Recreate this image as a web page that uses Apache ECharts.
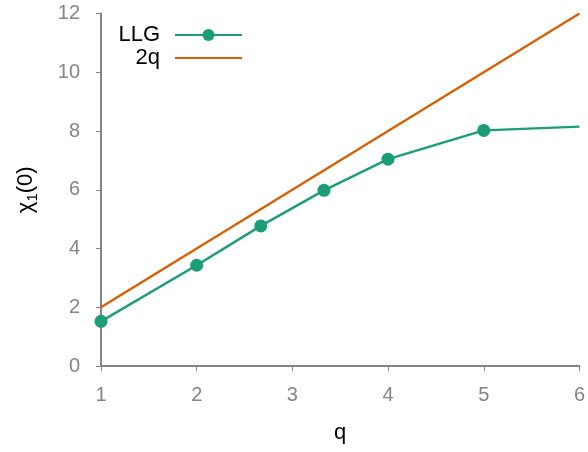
<!DOCTYPE html>
<html>
<head>
<meta charset="utf-8">
<script src="https://cdn.jsdelivr.net/npm/echarts@6/dist/echarts.min.js"></script>
<style>
  html, body { margin: 0; padding: 0; background: #fff; }
  #chart { width: 588px; height: 452px; }
</style>
</head>
<body>
<div id="chart"></div>
<script>
// LLG susceptibility chi_1(0) against q, with the 2q reference line
const qValues = [1, 2, 2.67, 3.33, 4, 5, 6];
const llgValues = [1.52, 3.43, 4.77, 5.98, 7.04, 8.02, 8.15];
const refQ = [1, 6];
const refValues = [2, 12];
const xTicks = [1, 2, 3, 4, 5, 6];
const yTicks = [0, 2, 4, 6, 8, 10, 12];

const axisGray = '#858585';
const font = 'Liberation Sans, Arial, Helvetica, sans-serif';

const llgData = qValues.map((q, i) => [q, llgValues[i]]);
const refData = refQ.map((q, i) => [q, refValues[i]]);
const lastIndex = llgData.length - 1;

const chart = echarts.init(document.getElementById('chart'), null, { renderer: 'canvas' });
chart.setOption({
  animation: false,
  backgroundColor: '#ffffff',
  textStyle: { fontFamily: font },
  grid: { left: 101, right: 4, top: 13.5, bottom: 86, containLabel: false },
  legend: {
    orient: 'vertical',
    align: 'right',
    right: 345,
    top: 23.5,
    padding: 0,
    itemGap: 0,
    itemWidth: 67,
    itemHeight: 15,
    textStyle: { fontSize: 22, color: '#000', fontFamily: font, lineHeight: 23, padding: [0, 10, 0, 0] },
    data: [
      { name: 'LLG' },
      // the reference line has no markers, so its key shows the line only
      { name: '2q', itemStyle: { opacity: 0 } }
    ]
  },
  xAxis: {
    type: 'value',
    min: xTicks[0],
    max: xTicks[xTicks.length - 1],
    interval: 1,
    name: 'q',
    nameLocation: 'middle',
    nameGap: 56,
    nameTextStyle: { fontSize: 22, color: '#000', fontFamily: font },
    axisLine: { show: true, lineStyle: { color: axisGray, width: 2 } },
    axisTick: { show: true, length: 5, lineStyle: { color: axisGray, width: 1 } },
    axisLabel: { fontSize: 20, color: axisGray, margin: 19, fontFamily: font },
    splitLine: { show: false }
  },
  yAxis: {
    type: 'value',
    min: yTicks[0],
    max: yTicks[yTicks.length - 1],
    interval: 2,
    name: '{a|χ}{s|1}{a|(0)}',
    nameLocation: 'middle',
    nameGap: 63,
    nameRotate: 90,
    nameTextStyle: {
      color: '#000',
      fontFamily: font,
      rich: {
        a: { fontSize: 22, color: '#000', fontFamily: font, lineHeight: 24 },
        s: { fontSize: 15, color: '#000', fontFamily: font, lineHeight: 16, padding: [14, 0, 0, 0] }
      }
    },
    axisLine: { show: true, lineStyle: { color: axisGray, width: 2 } },
    axisTick: { show: true, length: 5, lineStyle: { color: axisGray, width: 1 } },
    axisLabel: { fontSize: 20, color: axisGray, margin: 21, fontFamily: font },
    splitLine: { show: false }
  },
  series: [
    {
      name: 'LLG',
      type: 'line',
      data: llgData,
      symbol: 'circle',
      symbolSize: (val, params) => (params.dataIndex === lastIndex ? 0 : 13),
      showSymbol: true,
      color: '#1b9e77',
      lineStyle: { color: '#1b9e77', width: 2.4 },
      itemStyle: { color: '#1b9e77' },
      z: 3
    },
    {
      name: '2q',
      type: 'line',
      data: refData,
      symbol: 'none',
      color: '#d95f02',
      lineStyle: { color: '#d95f02', width: 2.4 },
      z: 2
    }
  ]
});
</script>
</body>
</html>
